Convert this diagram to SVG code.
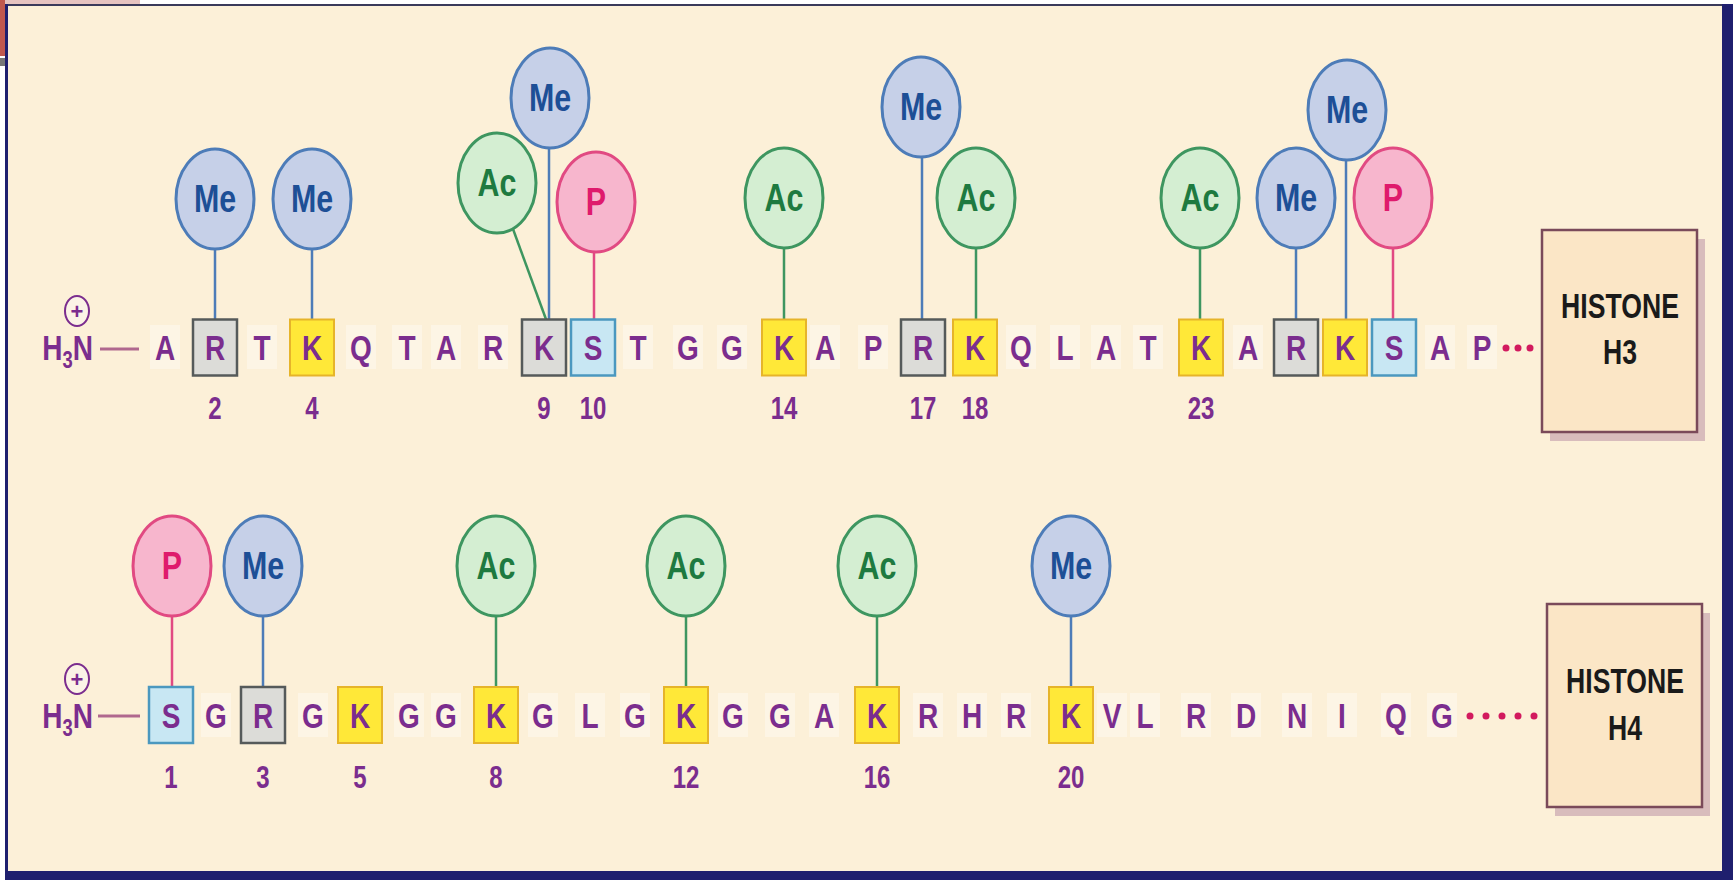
<svg xmlns="http://www.w3.org/2000/svg" width="1733" height="880" viewBox="0 0 1733 880">
<style>
.aa{font-family:"Liberation Sans",Arial,sans-serif;font-weight:bold;font-size:35px;fill:#7b2d8e;text-anchor:middle;transform-box:fill-box;transform-origin:center;transform:scaleX(0.8)}
.h3n{font-family:"Liberation Sans",Arial,sans-serif;font-weight:bold;font-size:35px;fill:#7b2d8e;text-anchor:start;transform-box:fill-box;transform-origin:center;transform:scaleX(0.8)}
.num{font-family:"Liberation Sans",Arial,sans-serif;font-weight:bold;font-size:32px;fill:#7b2d8e;text-anchor:middle;transform-box:fill-box;transform-origin:center;transform:scaleX(0.75)}
.lbl{font-family:"Liberation Sans",Arial,sans-serif;font-weight:bold;font-size:38px;text-anchor:middle;transform-box:fill-box;transform-origin:center;transform:scaleX(0.8)}
.hist{font-family:"Liberation Sans",Arial,sans-serif;font-weight:bold;font-size:36px;fill:#1a1a1a;text-anchor:middle;transform-box:fill-box;transform-origin:center;transform:scaleX(0.74)}
.plus{font-family:"Liberation Sans",Arial,sans-serif;font-weight:bold;font-size:22px;fill:#7b2d8e;text-anchor:middle}
.me ellipse{fill:#c6d0e8;stroke:#4d7cb8;stroke-width:3}
.me text{fill:#1d4f96}
.ac ellipse{fill:#d4eed2;stroke:#3e9660;stroke-width:3}
.ac text{fill:#1e7a40}
.p ellipse{fill:#f7b6cd;stroke:#e14a82;stroke-width:3}
.p text{fill:#df1a6c}
.gray use{fill:#dcdcd8;stroke:#555a5a;stroke-width:2.5}
.yel use{fill:#ffe838;stroke:#e6b42a;stroke-width:2}
.blu use{fill:#c8e7f3;stroke:#4b98bf;stroke-width:2.5}
.halo{fill:#ffffff;opacity:0.35}
.c-me{stroke:#4d7cb8;stroke-width:2.5}
.c-ac{stroke:#3e9660;stroke-width:2.5}
.c-p{stroke:#e14a82;stroke-width:2.5}
.dash{stroke:#b0688e;stroke-width:3}
.dot{fill:#d21a5e}
.pc{fill:#fbf3e6;stroke:#7b2d8e;stroke-width:2}
.hbox{fill:#fbe6c6;stroke:#7a4a5a;stroke-width:2.5}
.hshadow{fill:#d8bcbc}
</style>
<defs>
<rect id="bx" x="-22" y="-28" width="44" height="56"/>
<rect id="hl" x="-15" y="-22" width="30" height="44"/>
</defs>

<!-- background and frame -->
<rect x="0" y="0" width="1733" height="880" fill="#ffffff"/>
<rect x="0" y="0" width="140" height="4" fill="#e6c3c0"/>
<rect x="0" y="0" width="5" height="56" fill="#c0584e"/>
<rect x="0" y="58" width="5" height="8" fill="#777777"/>
<rect x="6" y="5" width="1718" height="867" fill="#fcf0d8"/>
<rect x="5" y="4" width="1721" height="2" fill="#3a3a5a"/>
<rect x="5" y="4" width="3" height="872" fill="#1f1f6e"/>
<rect x="1722" y="4" width="11" height="876" fill="#1f1f6e"/>
<rect x="5" y="871" width="1728" height="9" fill="#1f1f6e"/>

<!-- connectors -->
<g id="connectors" fill="none">
<line class="dash" x1="100" y1="349" x2="139" y2="349"/>
<line class="dash" x1="98" y1="716" x2="140" y2="716"/>
<line class="c-me" x1="215" y1="249" x2="215" y2="320"/>
<line class="c-me" x1="312" y1="249" x2="312" y2="320"/>
<line class="c-ac" x1="513" y1="229" x2="547" y2="322"/>
<line class="c-me" x1="549" y1="148" x2="549" y2="322"/>
<line class="c-p" x1="594" y1="252" x2="594" y2="320"/>
<line class="c-ac" x1="784" y1="248" x2="784" y2="320"/>
<line class="c-me" x1="922" y1="157" x2="922" y2="320"/>
<line class="c-ac" x1="976" y1="248" x2="976" y2="320"/>
<line class="c-ac" x1="1200" y1="248" x2="1200" y2="320"/>
<line class="c-me" x1="1296" y1="248" x2="1296" y2="320"/>
<line class="c-me" x1="1346" y1="160" x2="1346" y2="320"/>
<line class="c-p" x1="1393" y1="248" x2="1393" y2="320"/>
<line class="c-p" x1="172" y1="616" x2="172" y2="687"/>
<line class="c-me" x1="263" y1="616" x2="263" y2="687"/>
<line class="c-ac" x1="496" y1="616" x2="496" y2="687"/>
<line class="c-ac" x1="686" y1="616" x2="686" y2="687"/>
<line class="c-ac" x1="877" y1="616" x2="877" y2="687"/>
<line class="c-me" x1="1071" y1="616" x2="1071" y2="687"/>
</g>

<!-- H3 modification circles -->
<g id="h3-me-r2" class="me"><ellipse cx="215" cy="199" rx="39" ry="50"/><text class="lbl" x="215" y="212">Me</text></g>
<g id="h3-me-k4" class="me"><ellipse cx="312" cy="199" rx="39" ry="50"/><text class="lbl" x="312" y="212">Me</text></g>
<g id="h3-ac-k9" class="ac"><ellipse cx="497" cy="183" rx="39" ry="50"/><text class="lbl" x="497" y="196">Ac</text></g>
<g id="h3-me-k9" class="me"><ellipse cx="550" cy="98" rx="39" ry="50"/><text class="lbl" x="550" y="111">Me</text></g>
<g id="h3-p-s10" class="p"><ellipse cx="596" cy="202" rx="39" ry="50"/><text class="lbl" x="596" y="215">P</text></g>
<g id="h3-ac-k14" class="ac"><ellipse cx="784" cy="198" rx="39" ry="50"/><text class="lbl" x="784" y="211">Ac</text></g>
<g id="h3-me-r17" class="me"><ellipse cx="921" cy="107" rx="39" ry="50"/><text class="lbl" x="921" y="120">Me</text></g>
<g id="h3-ac-k18" class="ac"><ellipse cx="976" cy="198" rx="39" ry="50"/><text class="lbl" x="976" y="211">Ac</text></g>
<g id="h3-ac-k23" class="ac"><ellipse cx="1200" cy="198" rx="39" ry="50"/><text class="lbl" x="1200" y="211">Ac</text></g>
<g id="h3-me-r26" class="me"><ellipse cx="1296" cy="198" rx="39" ry="50"/><text class="lbl" x="1296" y="211">Me</text></g>
<g id="h3-me-k27" class="me"><ellipse cx="1347" cy="110" rx="39" ry="50"/><text class="lbl" x="1347" y="123">Me</text></g>
<g id="h3-p-s28" class="p"><ellipse cx="1393" cy="198" rx="39" ry="50"/><text class="lbl" x="1393" y="211">P</text></g>

<!-- H4 modification circles -->
<g id="h4-p-s1" class="p"><ellipse cx="172" cy="566" rx="39" ry="50"/><text class="lbl" x="172" y="579">P</text></g>
<g id="h4-me-r3" class="me"><ellipse cx="263" cy="566" rx="39" ry="50"/><text class="lbl" x="263" y="579">Me</text></g>
<g id="h4-ac-k8" class="ac"><ellipse cx="496" cy="566" rx="39" ry="50"/><text class="lbl" x="496" y="579">Ac</text></g>
<g id="h4-ac-k12" class="ac"><ellipse cx="686" cy="566" rx="39" ry="50"/><text class="lbl" x="686" y="579">Ac</text></g>
<g id="h4-ac-k16" class="ac"><ellipse cx="877" cy="566" rx="39" ry="50"/><text class="lbl" x="877" y="579">Ac</text></g>
<g id="h4-me-k20" class="me"><ellipse cx="1071" cy="566" rx="39" ry="50"/><text class="lbl" x="1071" y="579">Me</text></g>

<!-- H3 sequence -->
<g id="h3-sequence">
<g id="h3-nterm"><ellipse class="pc" cx="77" cy="311" rx="12" ry="15"/><text class="plus" x="77" y="319">+</text>
<text class="h3n" x="36" y="360">H<tspan font-size="23" dy="8">3</tspan><tspan dy="-8">N</tspan></text></g>
<g class="plain">
<use href="#hl" class="halo" x="165" y="347"/><text class="aa" x="165" y="360">A</text>
<use href="#hl" class="halo" x="262" y="347"/><text class="aa" x="262" y="360">T</text>
<use href="#hl" class="halo" x="361" y="347"/><text class="aa" x="361" y="360">Q</text>
<use href="#hl" class="halo" x="407" y="347"/><text class="aa" x="407" y="360">T</text>
<use href="#hl" class="halo" x="446" y="347"/><text class="aa" x="446" y="360">A</text>
<use href="#hl" class="halo" x="493" y="347"/><text class="aa" x="493" y="360">R</text>
<use href="#hl" class="halo" x="638" y="347"/><text class="aa" x="638" y="360">T</text>
<use href="#hl" class="halo" x="688" y="347"/><text class="aa" x="688" y="360">G</text>
<use href="#hl" class="halo" x="732" y="347"/><text class="aa" x="732" y="360">G</text>
<use href="#hl" class="halo" x="825" y="347"/><text class="aa" x="825" y="360">A</text>
<use href="#hl" class="halo" x="873" y="347"/><text class="aa" x="873" y="360">P</text>
<use href="#hl" class="halo" x="1021" y="347"/><text class="aa" x="1021" y="360">Q</text>
<use href="#hl" class="halo" x="1065" y="347"/><text class="aa" x="1065" y="360">L</text>
<use href="#hl" class="halo" x="1106" y="347"/><text class="aa" x="1106" y="360">A</text>
<use href="#hl" class="halo" x="1148" y="347"/><text class="aa" x="1148" y="360">T</text>
<use href="#hl" class="halo" x="1248" y="347"/><text class="aa" x="1248" y="360">A</text>
<use href="#hl" class="halo" x="1440" y="347"/><text class="aa" x="1440" y="360">A</text>
<use href="#hl" class="halo" x="1482" y="347"/><text class="aa" x="1482" y="360">P</text>
<circle class="dot" cx="1506" cy="348" r="3.5"/><circle class="dot" cx="1518" cy="348" r="3.5"/><circle class="dot" cx="1530" cy="348" r="3.5"/>
</g>
<g id="h3-r2" class="gray"><use href="#bx" x="215" y="347.5"/><text class="aa" x="215" y="360">R</text><text class="num" x="215" y="419">2</text></g>
<g id="h3-k4" class="yel"><use href="#bx" x="312" y="347.5"/><text class="aa" x="312" y="360">K</text><text class="num" x="312" y="419">4</text></g>
<g id="h3-k9" class="gray"><use href="#bx" x="544" y="347.5"/><text class="aa" x="544" y="360">K</text><text class="num" x="544" y="419">9</text></g>
<g id="h3-s10" class="blu"><use href="#bx" x="593" y="347.5"/><text class="aa" x="593" y="360">S</text><text class="num" x="593" y="419">10</text></g>
<g id="h3-k14" class="yel"><use href="#bx" x="784" y="347.5"/><text class="aa" x="784" y="360">K</text><text class="num" x="784" y="419">14</text></g>
<g id="h3-r17" class="gray"><use href="#bx" x="923" y="347.5"/><text class="aa" x="923" y="360">R</text><text class="num" x="923" y="419">17</text></g>
<g id="h3-k18" class="yel"><use href="#bx" x="975" y="347.5"/><text class="aa" x="975" y="360">K</text><text class="num" x="975" y="419">18</text></g>
<g id="h3-k23" class="yel"><use href="#bx" x="1201" y="347.5"/><text class="aa" x="1201" y="360">K</text><text class="num" x="1201" y="419">23</text></g>
<g id="h3-r26" class="gray"><use href="#bx" x="1296" y="347.5"/><text class="aa" x="1296" y="360">R</text></g>
<g id="h3-k27" class="yel"><use href="#bx" x="1345" y="347.5"/><text class="aa" x="1345" y="360">K</text></g>
<g id="h3-s28" class="blu"><use href="#bx" x="1394" y="347.5"/><text class="aa" x="1394" y="360">S</text></g>
</g>

<!-- H4 sequence -->
<g id="h4-sequence">
<g id="h4-nterm"><ellipse class="pc" cx="77" cy="679" rx="12" ry="15"/><text class="plus" x="77" y="687">+</text>
<text class="h3n" x="36" y="728">H<tspan font-size="23" dy="8">3</tspan><tspan dy="-8">N</tspan></text></g>
<g class="plain">
<use href="#hl" class="halo" x="216" y="715"/><text class="aa" x="216" y="728">G</text>
<use href="#hl" class="halo" x="313" y="715"/><text class="aa" x="313" y="728">G</text>
<use href="#hl" class="halo" x="409" y="715"/><text class="aa" x="409" y="728">G</text>
<use href="#hl" class="halo" x="446" y="715"/><text class="aa" x="446" y="728">G</text>
<use href="#hl" class="halo" x="543" y="715"/><text class="aa" x="543" y="728">G</text>
<use href="#hl" class="halo" x="590" y="715"/><text class="aa" x="590" y="728">L</text>
<use href="#hl" class="halo" x="635" y="715"/><text class="aa" x="635" y="728">G</text>
<use href="#hl" class="halo" x="733" y="715"/><text class="aa" x="733" y="728">G</text>
<use href="#hl" class="halo" x="780" y="715"/><text class="aa" x="780" y="728">G</text>
<use href="#hl" class="halo" x="824" y="715"/><text class="aa" x="824" y="728">A</text>
<use href="#hl" class="halo" x="928" y="715"/><text class="aa" x="928" y="728">R</text>
<use href="#hl" class="halo" x="972" y="715"/><text class="aa" x="972" y="728">H</text>
<use href="#hl" class="halo" x="1016" y="715"/><text class="aa" x="1016" y="728">R</text>
<use href="#hl" class="halo" x="1112" y="715"/><text class="aa" x="1112" y="728">V</text>
<use href="#hl" class="halo" x="1145" y="715"/><text class="aa" x="1145" y="728">L</text>
<use href="#hl" class="halo" x="1196" y="715"/><text class="aa" x="1196" y="728">R</text>
<use href="#hl" class="halo" x="1246" y="715"/><text class="aa" x="1246" y="728">D</text>
<use href="#hl" class="halo" x="1297" y="715"/><text class="aa" x="1297" y="728">N</text>
<use href="#hl" class="halo" x="1342" y="715"/><text class="aa" x="1342" y="728">I</text>
<use href="#hl" class="halo" x="1396" y="715"/><text class="aa" x="1396" y="728">Q</text>
<use href="#hl" class="halo" x="1442" y="715"/><text class="aa" x="1442" y="728">G</text>
<circle class="dot" cx="1470" cy="716" r="3.5"/><circle class="dot" cx="1486" cy="716" r="3.5"/><circle class="dot" cx="1502" cy="716" r="3.5"/><circle class="dot" cx="1518" cy="716" r="3.5"/><circle class="dot" cx="1534" cy="716" r="3.5"/>
</g>
<g id="h4-s1" class="blu"><use href="#bx" x="171" y="715"/><text class="aa" x="171" y="728">S</text><text class="num" x="171" y="788">1</text></g>
<g id="h4-r3" class="gray"><use href="#bx" x="263" y="715"/><text class="aa" x="263" y="728">R</text><text class="num" x="263" y="788">3</text></g>
<g id="h4-k5" class="yel"><use href="#bx" x="360" y="715"/><text class="aa" x="360" y="728">K</text><text class="num" x="360" y="788">5</text></g>
<g id="h4-k8" class="yel"><use href="#bx" x="496" y="715"/><text class="aa" x="496" y="728">K</text><text class="num" x="496" y="788">8</text></g>
<g id="h4-k12" class="yel"><use href="#bx" x="686" y="715"/><text class="aa" x="686" y="728">K</text><text class="num" x="686" y="788">12</text></g>
<g id="h4-k16" class="yel"><use href="#bx" x="877" y="715"/><text class="aa" x="877" y="728">K</text><text class="num" x="877" y="788">16</text></g>
<g id="h4-k20" class="yel"><use href="#bx" x="1071" y="715"/><text class="aa" x="1071" y="728">K</text><text class="num" x="1071" y="788">20</text></g>
</g>

<!-- histone boxes -->
<g id="histone-h3">
<rect class="hshadow" x="1550" y="239" width="155" height="202"/>
<rect class="hbox" x="1542" y="230" width="155" height="202"/>
<text class="hist" x="1620" y="318">HISTONE</text>
<text class="hist" x="1620" y="364">H3</text>
</g>
<g id="histone-h4">
<rect class="hshadow" x="1555" y="613" width="155" height="203"/>
<rect class="hbox" x="1547" y="604" width="155" height="203"/>
<text class="hist" x="1625" y="693">HISTONE</text>
<text class="hist" x="1625" y="740">H4</text>
</g>
</svg>
